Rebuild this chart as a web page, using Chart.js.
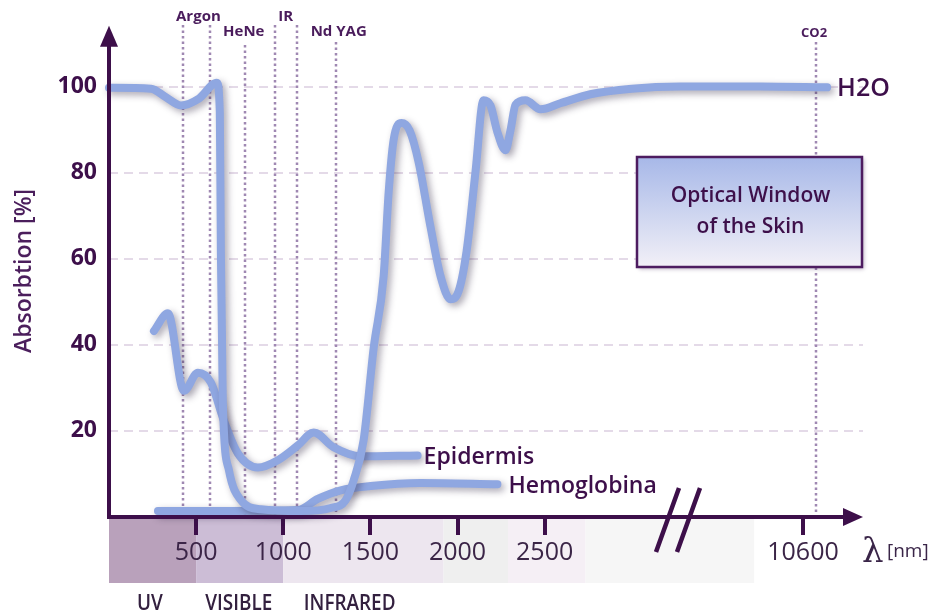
<!DOCTYPE html>
<html>
<head>
<meta charset="utf-8">
<script src="https://cdn.jsdelivr.net/npm/chart.js@4.4.0/dist/chart.umd.min.js"></script>
<style>
  html, body { margin: 0; padding: 0; background: #ffffff; }
  #wrap { width: 946px; height: 615px; }
</style>
</head>
<body>
<div id="wrap"><canvas id="c" width="946" height="615"></canvas></div>
<script>
// ---------------- data (wavelength in nm, absorption in %) ----------------
const h2oWave = [0, 241, 327, 413, 516, 619, 636, 642, 653, 688, 757, 871, 1100, 1272, 1358, 1404, 1461, 1519, 1576, 1605, 1633, 1679, 1725, 1777, 1845, 1903, 1960, 2006, 2052, 2103, 2149, 2189, 2229, 2275, 2304, 2333, 2390, 2476, 2590, 2762, 3000, 5150, 8700, 11670];
const h2oAbs  = [99.7, 99.5, 97.5, 95.6, 97.2, 100.9, 94, 61.7, 27, 10.9, 3.9, 1.8, 1.4, 2.1, 3.9, 8.5, 17.8, 39.3, 55.9, 75.5, 87.5, 91.5, 89.8, 82.4, 67.4, 55.9, 50.6, 52.4, 61.7, 80.1, 96.8, 95.6, 89.4, 85.2, 89.8, 95.8, 96.8, 94.7, 96.1, 98.2, 99.5, 100, 100, 99.8];

const epiWave = [258, 338, 430, 510, 585, 659, 739, 854, 969, 1083, 1175, 1289, 1444, 1771];
const epiAbs  = [43.2, 47.3, 29.3, 33.5, 31.2, 22.4, 14.8, 11.5, 13.2, 16.6, 19.6, 16.2, 14.1, 14.3];

const hbWave = [281, 699, 1083, 1198, 1330, 1502, 1788, 2229];
const hbAbs  = [1.4, 1.4, 1.6, 4.2, 6.2, 7.2, 7.9, 7.6];

const seriesNames = ['H2O', 'Epidermis', 'Hemoglobina'];

const laserNames = ['Argon', 'HeNe', 'IR', 'Nd YAG', 'CO2'];
const laserWaves = [[424, 579], [779], [951, 1077], [1301], [11180]];

const xTickWaves  = [500, 1000, 1500, 2000, 2500, 10600];
const xTickLabels = ['500', '1000', '1500', '2000', '2500', '10600'];
const yTickValues = [20, 40, 60, 80, 100];

const bandNames  = ['UV', 'VISIBLE', 'INFRARED'];
const bandLabelWaves = [235, 745, 1381];
const bandEdges  = [0, 500, 1000, 1920, 2290, 2735, 8430];

// ---------------- styles ----------------
const bandColors = ['#b9a1bb', '#ccbdd6', '#ede6ef', '#efefef', '#f5eff5', '#f6f6f6'];
const INK = '#3d0f4a';
const CURVE = '#8fa7e1';

// broken axis: above 3000 nm the scale is compressed
const BREAK_AT = 3000, BREAK_RATIO = 0.1293;
function axisPos(w) { return w <= BREAK_AT ? w : BREAK_AT + (w - BREAK_AT) * BREAK_RATIO; }
function pts(ws, vs) { return ws.map((w, i) => ({ x: axisPos(w), y: vs[i] })); }

const FONT = "'Open Sans', 'Noto Sans', sans-serif";

const decorPlugin = {
  id: 'decor',
  beforeDraw(chart) {
    const ctx = chart.ctx, xs = chart.scales.x, a = chart.chartArea;
    ctx.save();
    for (let i = 0; i < bandColors.length; i++) {
      const x0 = xs.getPixelForValue(axisPos(bandEdges[i]));
      const x1 = xs.getPixelForValue(axisPos(bandEdges[i + 1]));
      ctx.fillStyle = bandColors[i];
      ctx.fillRect(x0, a.bottom + 2, x1 - x0, 64);
    }
    ctx.restore();
  },
  beforeDatasetsDraw(chart) {
    const ctx = chart.ctx, xs = chart.scales.x, a = chart.chartArea;
    ctx.save();
    ctx.strokeStyle = '#9f88b2';
    ctx.lineWidth = 2.5;
    ctx.setLineDash([2.5, 3]);
    const tops = [25, 45, 25, 42, 42];
    laserWaves.forEach((ws, gi) => {
      ws.forEach(w => {
        const px = Math.round(xs.getPixelForValue(axisPos(w)));
        ctx.beginPath();
        ctx.moveTo(px, tops[gi]);
        ctx.lineTo(px, a.bottom);
        ctx.stroke();
      });
    });
    ctx.restore();
  },
  beforeDatasetDraw(chart) {
    const ctx = chart.ctx;
    ctx.save();
    ctx.shadowColor = 'rgba(40,30,60,0.4)';
    ctx.shadowBlur = 7;
    ctx.shadowOffsetX = 3;
    ctx.shadowOffsetY = 3;
  },
  afterDatasetDraw(chart) {
    chart.ctx.restore();
  },
  afterDatasetsDraw(chart) {
    const ctx = chart.ctx, xs = chart.scales.x, a = chart.chartArea;
    ctx.save();
    // axes with arrows
    ctx.strokeStyle = INK;
    ctx.fillStyle = INK;
    ctx.lineWidth = 4;
    ctx.setLineDash([]);
    ctx.beginPath();
    ctx.moveTo(a.left, a.bottom);
    ctx.lineTo(a.left, a.top + 15);
    ctx.moveTo(a.left - 2, a.bottom);
    ctx.lineTo(a.right - 15, a.bottom);
    ctx.stroke();
    ctx.beginPath();
    ctx.moveTo(a.left, a.top);
    ctx.lineTo(a.left - 9, a.top + 21);
    ctx.lineTo(a.left + 9, a.top + 21);
    ctx.closePath();
    ctx.fill();
    ctx.beginPath();
    ctx.moveTo(a.right, a.bottom);
    ctx.lineTo(a.right - 20, a.bottom - 9);
    ctx.lineTo(a.right - 20, a.bottom + 9);
    ctx.closePath();
    ctx.fill();
    // axis break marks
    ctx.lineWidth = 4.5;
    ctx.beginPath();
    ctx.moveTo(679, 488); ctx.lineTo(656, 552);
    ctx.moveTo(700, 488); ctx.lineTo(677, 552);
    ctx.stroke();

    // series labels at the end of each curve
    ctx.fillStyle = INK;
    ctx.textBaseline = 'middle';
    ctx.textAlign = 'left';
    const offs = [10, 6, 11];
    const sizes = [25, 23, 23];
    chart.data.datasets.forEach((ds, i) => {
      const meta = chart.getDatasetMeta(i);
      const last = meta.data[meta.data.length - 1];
      ctx.font = '600 ' + sizes[i] + 'px ' + FONT;
      ctx.fillText(seriesNames[i], last.x + offs[i], last.y + 2);
    });

    // laser labels
    ctx.font = '700 15px ' + FONT;
    ctx.textAlign = 'center';
    ctx.fillStyle = '#4a1c5c';
    const rows = [17, 32, 17, 32, 33];
    const shift = [2, -1, 0, 3, -2];
    laserWaves.forEach((ws, gi) => {
      const px = ws.map(w => xs.getPixelForValue(axisPos(w)));
      const cx = px.reduce((s, v) => s + v, 0) / px.length + shift[gi];
      if (laserNames[gi] === 'CO2') ctx.font = '700 13px ' + FONT;
      ctx.fillText(laserNames[gi], cx, rows[gi]);
    });

    // Optical window box
    const bx = 637, by = 157, bw = 225, bh = 110;
    ctx.save();
    ctx.shadowColor = 'rgba(60,30,80,0.35)';
    ctx.shadowBlur = 4;
    ctx.shadowOffsetX = 2;
    ctx.shadowOffsetY = 2;
    const g = ctx.createLinearGradient(0, by, 0, by + bh);
    g.addColorStop(0, '#a7b8e8');
    g.addColorStop(1, '#f2f0f7');
    ctx.fillStyle = g;
    ctx.fillRect(bx, by, bw, bh);
    ctx.restore();
    ctx.strokeStyle = '#4d1c60';
    ctx.lineWidth = 2.5;
    ctx.strokeRect(bx, by, bw, bh);
    ctx.fillStyle = INK;
    ctx.font = '600 21px ' + FONT;
    ctx.textAlign = 'center';
    ctx.fillText('Optical Window', bx + bw / 2 + 1, 196);
    ctx.fillText('of the Skin', bx + bw / 2 + 1, 227);

    // band labels (slightly condensed)
    ctx.font = '600 21px ' + FONT;
    ctx.fillStyle = '#33203f';
    bandNames.forEach((n, i) => {
      ctx.save();
      ctx.translate(xs.getPixelForValue(bandLabelWaves[i]), 604);
      ctx.scale(0.9, 1);
      ctx.fillText(n, 0, 0);
      ctx.restore();
    });

    // lambda [nm]
    ctx.textAlign = 'left';
    ctx.fillStyle = '#3a2548';
    ctx.font = '34px ' + "'DejaVu Serif', serif";
    ctx.fillText('\u03BB', 862, 553);
    ctx.font = '19px ' + FONT;
    ctx.fillText('[nm]', 887, 552);

    // y axis title
    ctx.save();
    ctx.translate(24, 271);
    ctx.rotate(-Math.PI / 2);
    ctx.textAlign = 'center';
    ctx.fillStyle = '#4b1e5c';
    ctx.font = '600 23px ' + FONT;
    ctx.fillText('Absorbtion [%]', 0, 0);
    ctx.restore();

    ctx.restore();
  }
};

const mkDs = (data) => ({
  data,
  borderColor: CURVE,
  borderWidth: 8,
  fill: false,
  pointRadius: 0,
  cubicInterpolationMode: 'monotone',
  borderCapStyle: 'round',
  borderJoinStyle: 'round',
  clip: false
});

new Chart(document.getElementById('c'), {
  type: 'line',
  data: {
    datasets: [
      mkDs(pts(h2oWave, h2oAbs)),
      mkDs(pts(epiWave, epiAbs)),
      mkDs(pts(hbWave, hbAbs))
    ]
  },
  options: {
    responsive: false,
    devicePixelRatio: 1,
    animation: false,
    layout: { padding: { left: 0, right: 83, top: 23, bottom: 0 } },
    plugins: { legend: { display: false }, tooltip: { enabled: false } },
    scales: {
      x: {
        type: 'linear',
        min: 0,
        max: 4327,
        afterFit(s) { s.height = 98; },
        afterBuildTicks(s) { s.ticks = xTickWaves.map(w => ({ value: axisPos(w) })); },
        ticks: {
          autoSkip: false,
          maxRotation: 0,
          padding: 3,
          color: '#3b2547',
          font: { family: FONT, size: 25 },
          callback: (v, i) => xTickLabels[i]
        },
        grid: {
          display: true,
          drawOnChartArea: false,
          drawTicks: true,
          tickLength: 18,
          lineWidth: 4,
          color: INK
        },
        border: { display: false }
      },
      y: {
        min: 0,
        max: 114.1,
        afterFit(s) { s.width = 109; },
        afterBuildTicks(s) { s.ticks = yTickValues.map(v => ({ value: v })); },
        ticks: {
          padding: 12,
          color: INK,
          font: { family: FONT, size: 23, weight: '700' }
        },
        grid: {
          color: '#e4dae8',
          lineWidth: 2,
          drawTicks: false
        },
        border: { display: false, dash: [9, 6] }
      }
    }
  },
  plugins: [decorPlugin]
});
</script>
</body>
</html>
